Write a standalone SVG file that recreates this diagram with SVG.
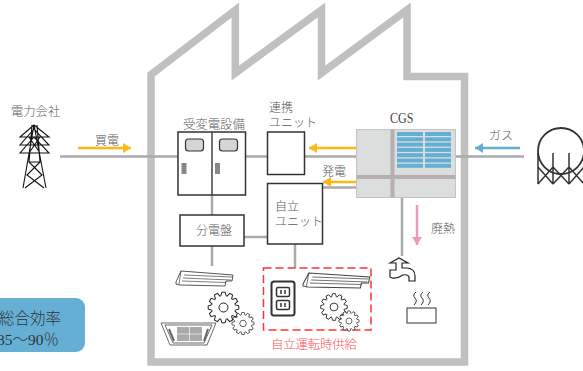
<svg xmlns="http://www.w3.org/2000/svg" xmlns:xlink="http://www.w3.org/1999/xlink" width="583" height="371" viewBox="0 0 583 371">
<style>
text{font-family:"Noto Sans CJK JP","Liberation Serif",serif;font-size:12px;fill:#5c5c5c;font-weight:300}
.box{fill:#fff;stroke:#333;stroke-width:1.5}
.wire{fill:none;stroke:#aaa;stroke-width:2.5}
.dk{fill:none;stroke:#111;stroke-width:1.1}
.org{fill:none;stroke:#fdb813;stroke-width:2.5}
.pn{fill:#63afd3}
.bar{fill:#b5b0ae}
</style>
<defs>
<marker id="ao" markerUnits="userSpaceOnUse" markerWidth="9" markerHeight="10" refX="8" refY="5" orient="auto"><path d="M0 0L8 5L0 10z" fill="#fdb813"/></marker>
<marker id="ab" markerUnits="userSpaceOnUse" markerWidth="9" markerHeight="10" refX="8" refY="5" orient="auto"><path d="M0 0L8 5L0 10z" fill="#63afd3"/></marker>
<marker id="ap" markerUnits="userSpaceOnUse" markerWidth="9" markerHeight="10" refX="8" refY="5" orient="auto"><path d="M0 0L8 5L0 10z" fill="#ea9abf"/></marker>
<path id="t" d="M-3.11-11.59L-2.6-11.7L-1.7-15.3H1.7L2.6-11.7L3.11-11.59" fill="#fff" stroke="#222" stroke-width="1"/>
<g id="gear">
<circle r="12" fill="#fff"/>
<use xlink:href="#t"/><use xlink:href="#t" transform="rotate(30)"/><use xlink:href="#t" transform="rotate(60)"/><use xlink:href="#t" transform="rotate(90)"/><use xlink:href="#t" transform="rotate(120)"/><use xlink:href="#t" transform="rotate(150)"/><use xlink:href="#t" transform="rotate(180)"/><use xlink:href="#t" transform="rotate(210)"/><use xlink:href="#t" transform="rotate(240)"/><use xlink:href="#t" transform="rotate(270)"/><use xlink:href="#t" transform="rotate(300)"/><use xlink:href="#t" transform="rotate(330)"/>
<circle r="4.500" fill="#fff" stroke="#222" stroke-width="1"/>
</g>
<g id="light" fill="#fff" stroke="#444" stroke-width=".9">
<path d="M0 12L5 1L57 5L56 11L50 11L49 16L4 15L0 14z"/>
<path d="M5 1L3 14M8 5L56 7M7 8L55 10M6 11L50 12.500" fill="none" stroke-width=".7"/>
</g>
</defs>

<g id="factory"><path d="M151 362V74.500L235.300 10V73L321.500 10V73L407 10V76.500H464.500V362z" fill="none" stroke="#c0c0c0" stroke-width="7.500"/></g>

<g id="connectors">
<path class="wire" d="M60 156.500H178M245 156.500H268M304 156.500H357M455 156.500H524M322 187.500H357M212 195V215M212 246V266M244 237H268M295 244V268M402 198V256"/>
<path class="org" d="M78 148H131" marker-end="url(#ao)"/>
<path class="org" d="M356 148H309" marker-end="url(#ao)"/>
<path class="org" d="M356 182H323" marker-end="url(#ao)"/>
<path d="M520 148H475" fill="none" stroke="#63afd3" stroke-width="2.500" marker-end="url(#ab)"/>
<path d="M417 205V245" fill="none" stroke="#ea9abf" stroke-width="2.500" marker-end="url(#ap)"/>
</g>

<g id="utility">
<text x="11" y="116" style="font-size:12.300px">電力会社</text>
<path class="dk" d="M34 125L23 188M34 125L46 188M34 125L20 137H49zM34 129L20 145H49zM34 137L20 153H49zM32 125L29 162L42 175L25 188M37 125L40 162L27 175L44 188M29 162H40M29 137L40 153M40 137L29 153"/>
</g>
<text id="l-buy" x="95" y="145">買電</text>

<g id="substation">
<text x="183" y="129" textLength="62" style="font-size:12.500px">受変電設備</text>
<rect class="box" x="178" y="132" width="67.500" height="63"/>
<path d="M212 132V195" stroke="#444" stroke-width="1.500"/>
<rect x="185.500" y="139" width="18" height="12" rx="3" fill="#d5d5d5" stroke="#333" stroke-width="1.200"/>
<rect x="219.500" y="139" width="18" height="12" rx="3" fill="#d5d5d5" stroke="#333" stroke-width="1.200"/>
<rect x="181.500" y="163" width="5" height="11" fill="#888"/>
<rect x="215" y="163" width="5" height="11" fill="#888"/>
</g>

<g id="link-unit">
<text x="269" y="112">連携</text>
<text x="269" y="127" textLength="48">ユニット</text>
<rect class="box" x="267.500" y="132" width="37" height="42.500"/>
</g>

<g id="self-unit">
<rect class="box" x="267.500" y="183.500" width="55" height="60.500"/>
<text x="275" y="211">自立</text>
<text x="275" y="226" textLength="48">ユニット</text>
</g>

<g id="panel">
<rect class="box" x="180" y="215" width="64" height="31"/>
<text x="196" y="235">分電盤</text>
</g>
<text id="l-gen" x="322" y="176">発電</text>

<g id="cgs">
<text transform="translate(390 123) scale(1 1.250)" style="font-family:'Liberation Serif',serif;font-size:12px;fill:#444;font-weight:400">CGS</text>
<rect x="356.500" y="129.500" width="99" height="68" fill="#dcdddd" stroke="#c4c4c4" stroke-width="1"/>
<rect class="bar" x="390.500" y="129.500" width="4" height="68"/>
<rect class="bar" x="356.500" y="175" width="99" height="4"/>
<g class="pn">
<rect x="397" y="132" width="26" height="4"/><rect x="425" y="132" width="26" height="4"/>
<rect x="397" y="137.300" width="26" height="4"/><rect x="425" y="137.300" width="26" height="4"/>
<rect x="397" y="142.600" width="26" height="4"/><rect x="425" y="142.600" width="26" height="4"/>
<rect x="397" y="147.900" width="26" height="4"/><rect x="425" y="147.900" width="26" height="4"/>
<rect x="397" y="153.200" width="26" height="4"/><rect x="425" y="153.200" width="26" height="4"/>
<rect x="397" y="158.500" width="26" height="4"/><rect x="425" y="158.500" width="26" height="4"/>
<rect x="397" y="163.800" width="26" height="4"/><rect x="425" y="163.800" width="26" height="4"/>
</g>
</g>

<text id="l-gas" x="489" y="140">ガス</text>
<g id="gas-tank" fill="none" stroke="#333" stroke-width="1.500">
<circle cx="561" cy="151" r="23" stroke-width="1.800"/>
<path d="M538 153V184M553 153V184M569 153V184M584 153V184M538 167L553 184M553 167L538 184M553 167L569 184M569 167L553 184M569 167L584 184M584 167L569 184"/>
</g>

<text id="l-heat" x="431" y="233">廃熱</text>
<g id="faucet" fill="#fff" stroke="#222" stroke-width="1.200">
<path d="M390 263L399 258L408 263H402V268H406Q415 268 415 276V281H409V277Q408 274 403 275Q397 279 392 278L390 277V270H396V263z"/>
</g>
<g id="hot-water" fill="none" stroke="#333" stroke-width="1">
<rect x="407" y="308" width="29" height="15" fill="#fff"/>
<path d="M416 292Q412 295 415 298T414 305M423 292Q419 295 422 298T421 305M430 292Q426 295 429 298T428 305"/>
</g>

<g id="loads">
<use xlink:href="#light" transform="translate(176 270)"/>
<use xlink:href="#gear" transform="translate(223.500 307.500)"/>
<use xlink:href="#gear" transform="translate(243 323.500) scale(.72)"/>
<g id="ac" fill="#fff" stroke="#444" stroke-width=".8">
<path d="M161 323H216L207 345H170z"/>
<path d="M165 325H212L204 343H173z"/>
<rect x="177" y="327" width="25" height="14" fill="#aaa" stroke="none"/>
<path d="M189.500 327V341M177 334H202" stroke="#eee"/>
<path d="M169 329L174 341M208 329L204 341" stroke="#666" stroke-width="2"/>
</g>
</g>

<g id="backup">
<rect x="263.500" y="268" width="107.500" height="62" fill="none" stroke="#f33" stroke-width="1.500" stroke-dasharray="8 4"/>
<rect x="271.500" y="281.500" width="23" height="34" rx="2.500" fill="#fff" stroke="#333" stroke-width="2"/>
<rect x="276.500" y="287.500" width="13" height="9" rx="1.500" fill="#fff" stroke="#333" stroke-width="1.500"/>
<rect x="276.500" y="300.500" width="13" height="9" rx="1.500" fill="#fff" stroke="#333" stroke-width="1.500"/>
<path d="M281 290V294M285 290V294M281 303V307M285 303V307" stroke="#333" stroke-width="1.500"/>
<use xlink:href="#light" transform="translate(303 272) scale(1.170 1)"/>
<use xlink:href="#gear" transform="translate(334 307) scale(.87)"/>
<use xlink:href="#gear" transform="translate(349 321) scale(.66)"/>
<text x="271" y="349" textLength="86" style="fill:#f55;font-size:12.500px">自立運転時供給</text>
</g>

<g id="efficiency">
<rect x="-12" y="298" width="97" height="54" rx="9" fill="#65afd4"/>
<text x="-1" y="324" style="font-size:15.500px;fill:#333">総合効率</text>
<text x="-3" y="345" style="font-size:15.500px;fill:#333;font-family:'Liberation Serif','Noto Sans CJK JP',serif">85～90％</text>
</g>
</svg>
